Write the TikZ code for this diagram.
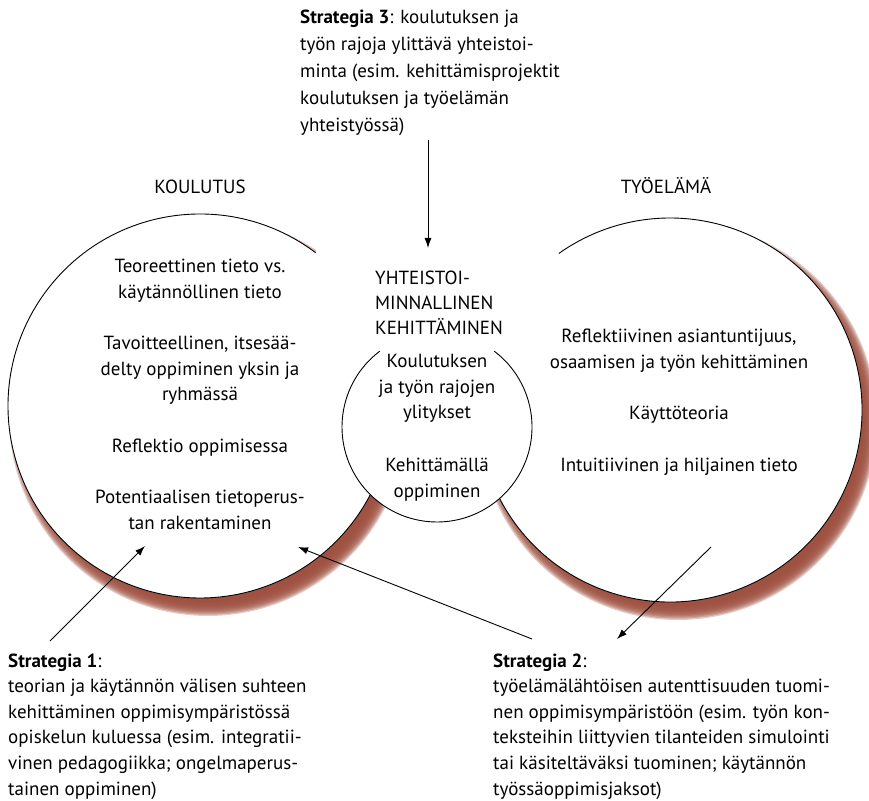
\documentclass[tikz,border=0pt]{standalone}
\usepackage{fontspec}
\setmainfont{PT Sans}
\usetikzlibrary{arrows.meta}
\definecolor{shadowc}{RGB}{158,80,64}
\begin{document}
\begin{tikzpicture}[x=1pt,y=1pt,
  txt/.style={inner sep=0pt, align=center, font=\fontsize{19}{25.5}\selectfont},
  ltxt/.style={inner sep=0pt, align=left, font=\fontsize{19}{25.6}\selectfont},
  conn/.style={line width=0.9pt, -{Latex[length=10pt,width=7pt]}},
  outline/.style={line width=0.9pt}]
\useasboundingbox (0,0) rectangle (869,800);
% centres
\coordinate (cL) at (200,394);
\coordinate (cR) at (670,390);
\coordinate (cM) at (437,373);
% blurred shadows
\foreach \k in {0,...,11}{
  \fill[shadowc, opacity=0.3] ([shift={(8,-11)}]cL) circle ({185+\k*14/11});
  \fill[shadowc, opacity=0.3] ([shift={(8,-11)}]cR) circle ({185+\k*14/11});
}
% white discs
\fill[white] (cL) circle (192);
\fill[white] (cR) circle (192);
\fill[white] (316,548) -- (380,449) -- (493,449) -- (559,546) -- (559,600) -- (316,600) -- cycle;
% outlines
\draw[outline] (cL) ++(53:192) arc[start angle=53, end angle=334, radius=192];
\draw[outline] (cR) ++(205:192) arc[start angle=205, end angle=485.4, radius=192];
\fill[white] (cM) circle (95);
\draw[outline] (cM) ++(127:95) arc[start angle=127, end angle=413, radius=95];
% headings
\node[txt, anchor=base] (kou) at (200,606) {KOULUTUS};
\node[txt, anchor=base] (tyo) at (666,606) {TYÖELÄMÄ};
% left circle (anchor = baseline of last line)
\node[txt, anchor=base] (l1) at (200,501.5) {Teoreettinen tieto vs.\\käytännöllinen tieto};
\node[txt, anchor=base] (l2) at (200,399) {Tavoitteellinen, itsesää-\\delty oppiminen yksin ja\\ryhmässä};
\node[txt, anchor=base] (l3) at (200,347) {Reflektio oppimisessa};
\node[txt, anchor=base] (l4) at (200,270.5) {Potentiaalisen tietoperus-\\tan rakentaminen};
% middle
\node[ltxt, anchor=base west, font=\fontsize{19}{25}\selectfont] (mt) at (375,465) {YHTEISTOI-\\MINNALLINEN\\KEHITTÄMINEN};
\node[txt, anchor=base] (m1) at (437,381) {Koulutuksen\\ja työn rajojen\\ylitykset};
\node[txt, anchor=base] (m2) at (437,302.5) {Kehittämällä\\oppiminen};
% right circle
\node[txt, anchor=base] (r1) at (679,431.5) {Reflektiivinen asiantuntijuus,\\osaamisen ja työn kehittäminen};
\node[txt, anchor=base] (r2) at (679,380) {Käyttöteoria};
\node[txt, anchor=base] (r3) at (679,328) {Intuitiivinen ja hiljainen tieto};
% strategies
\node[ltxt, anchor=base west, font=\fontsize{19}{27}\selectfont] (s3) at (300,668)
  {\textbf{Strategia 3}: koulutuksen ja\\työn rajoja ylittävä yhteistoi-\\minta (esim. kehittämisprojektit\\koulutuksen ja työelämän\\yhteistyössä)};
\node[ltxt, anchor=base west] (s1) at (8,5)
  {\textbf{Strategia 1}:\\teorian ja käytännön välisen suhteen\\kehittäminen oppimisympäristössä\\opiskelun kuluessa (esim. integratii-\\vinen pedagogiikka; ongelmaperus-\\tainen oppiminen)};
\node[ltxt, anchor=base west] (s2) at (493,5)
  {\textbf{Strategia 2}:\\työelämälähtöisen autenttisuuden tuomi-\\nen oppimisympäristöön (esim. työn kon-\\teksteihin liittyvien tilanteiden simulointi\\tai käsiteltäväksi tuominen; käytännön\\työssäoppimisjaksot)};
% arrow end points
\coordinate (a3s) at (428,660);
\coordinate (a3e) at (428,552);
\coordinate (a1s) at (50,159);
\coordinate (a1e) at (145,254);
\coordinate (a2s) at (532,161);
\coordinate (a2e) at (298,253);
\coordinate (a4s) at (711,253);
\coordinate (a4e) at (617,161);
\draw[conn] (a3s) -- (a3e);
\draw[conn] (a1s) -- (a1e);
\draw[conn] (a2s) -- (a2e);
\draw[conn] (a4s) -- (a4e);
\end{tikzpicture}
\end{document}
